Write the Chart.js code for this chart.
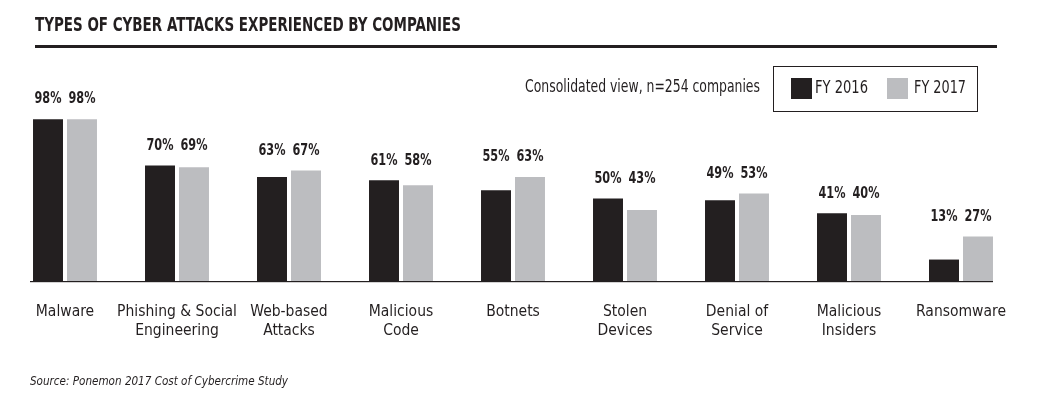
<!DOCTYPE html>
<html>
<head>
<meta charset="utf-8">
<script src="https://cdn.jsdelivr.net/npm/chart.js@4"></script>
<style>
html,body{margin:0;padding:0;background:#fff;}
#wrap{position:relative;width:1045px;height:399px;}
</style>
</head>
<body>
<div id="wrap"><canvas id="c" width="1045" height="399"></canvas></div>
<script>
const categories = [["Malware"],["Phishing & Social","Engineering"],["Web-based","Attacks"],["Malicious","Code"],["Botnets"],["Stolen","Devices"],["Denial of","Service"],["Malicious","Insiders"],["Ransomware"]];
const fy2016 = [98,70,63,61,55,50,49,41,13];
const fy2017 = [98,69,67,58,63,43,53,40,27];
const seriesNames = ["FY 2016","FY 2017"];
const titleText = "TYPES OF CYBER ATTACKS EXPERIENCED BY COMPANIES";
const subtitleText = "Consolidated view, n=254 companies";
const sourceText = "Source: Ponemon 2017 Cost of Cybercrime Study";

const FONT = "'Liberation Sans Narrow','Arial Narrow','DejaVu Sans Condensed',sans-serif";
const DARK = "#231f20", GRAY = "#bcbdc0", TEXT = "#231f20";

const decor = {
  id: 'decor',
  afterDraw(chart){
    const ctx = chart.ctx;
    const ys = chart.scales.y;
    ctx.save();
    // title
    ctx.fillStyle = TEXT;
    ctx.font = "bold 19px " + FONT;
    ctx.textBaseline = 'middle';
    ctx.textAlign = 'left';
    ctx.fillText(titleText, 35, 26, 426);
    // rule
    ctx.fillRect(35, 45, 962, 3);
    // subtitle
    ctx.font = "17px " + FONT;
    ctx.fillText(subtitleText, 525, 88, 235);
    // legend box
    ctx.strokeStyle = TEXT;
    ctx.lineWidth = 1;
    ctx.strokeRect(773.5, 66.5, 204, 45);
    ctx.fillStyle = DARK; ctx.fillRect(791, 78, 21, 21);
    ctx.fillStyle = GRAY; ctx.fillRect(887, 78, 21, 21);
    ctx.fillStyle = TEXT;
    ctx.font = "17px " + FONT;
    ctx.fillText(seriesNames[0], 815, 89, 53);
    ctx.fillText(seriesNames[1], 914, 89, 52);
    // source
    ctx.font = "italic 13px " + FONT;
    ctx.fillText(sourceText, 30, 382, 258);
    // axis line
    const first = chart.getDatasetMeta(0).data[0];
    const last = chart.getDatasetMeta(1).data[categories.length-1];
    const y0 = ys.getPixelForValue(0);
    const x0 = first.x - first.width/2 - 3, x1 = last.x + last.width/2;
    ctx.fillRect(x0, Math.round(y0), x1 - x0, 1.2);
    // value labels
    ctx.font = "bold 16px " + FONT;
    ctx.textAlign = 'center';
    ctx.textBaseline = 'middle';
    for (let i = 0; i < categories.length; i++){
      const b0 = chart.getDatasetMeta(0).data[i];
      const b1 = chart.getDatasetMeta(1).data[i];
      const ly = Math.min(b0.y, b1.y) - 20;
      ctx.fillText(fy2016[i] + "%", b0.x, ly, 27);
      ctx.fillText(fy2017[i] + "%", b1.x, ly, 27);
    }
    ctx.restore();
  }
};

new Chart(document.getElementById('c'), {
  type: 'bar',
  data: {
    labels: categories,
    datasets: [
      {label: seriesNames[0], data: fy2016, backgroundColor: DARK, barPercentage: 0.882, categoryPercentage: 0.607},
      {label: seriesNames[1], data: fy2017, backgroundColor: GRAY, barPercentage: 0.882, categoryPercentage: 0.607}
    ]
  },
  options: {
    responsive: false,
    animation: false,
    layout: {padding: {left: 9, right: 28, top: 116, bottom: 0}},
    plugins: {legend: {display: false}, tooltip: {enabled: false}, title: {display: false}},
    scales: {
      x: {
        grid: {display: false, drawTicks: false},
        border: {display: false},
        ticks: {color: TEXT, font: {family: FONT, size: 15.5, lineHeight: 1.22}, padding: 22, maxRotation: 0, autoSkip: false},
        afterFit(scale){ scale.height = 118; }
      },
      y: {
        display: false,
        min: 0, max: 100
      }
    }
  },
  plugins: [decor]
});
</script>
</body>
</html>
